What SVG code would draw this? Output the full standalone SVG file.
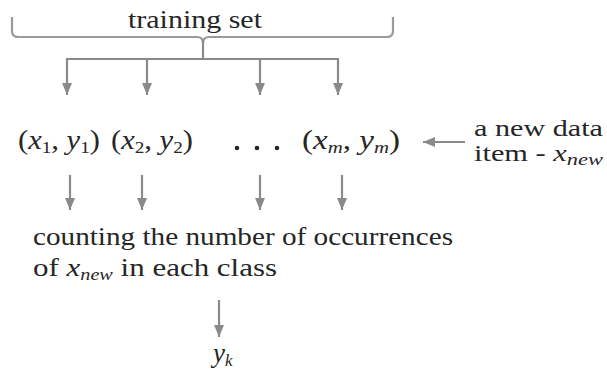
<svg xmlns="http://www.w3.org/2000/svg" width="607" height="370" viewBox="0 0 607 370">
<defs>
<marker id="ah" viewBox="0 0 12 10" refX="12" refY="5" markerWidth="12" markerHeight="10" markerUnits="userSpaceOnUse" orient="auto">
<path d="M0,0 L12,5 L0,10 z" fill="#8a8a8a"/>
</marker>
</defs>
<style>
.c{stroke:#8a8a8a;stroke-width:2.2;fill:none}
.b{stroke:#9a9a9a;stroke-width:2.2;fill:none}
</style>
<rect width="607" height="370" fill="#ffffff"/>
<g id="training-set">
<path class="b" d="M12,17 L12,31 Q12,37 18,37 L197,37 Q203,37 203,43 Q203,37 209,37 L387,37 Q393,37 393,31 L393,17"/>
<text style="font-family:'Liberation Serif',serif;font-size:26px;fill:#262626" x="128" y="28" textLength="134" lengthAdjust="spacingAndGlyphs">training set</text>
</g>
<g id="connectors">
<path class="c" d="M203,40 L203,59 M66,59 L339,59"/>
<line class="c" x1="67" y1="58" x2="67" y2="95" marker-end="url(#ah)"/>
<line class="c" x1="147" y1="58" x2="147" y2="95" marker-end="url(#ah)"/>
<line class="c" x1="260" y1="58" x2="260" y2="95" marker-end="url(#ah)"/>
<line class="c" x1="338" y1="58" x2="338" y2="95" marker-end="url(#ah)"/>
<line class="c" x1="70" y1="175" x2="70" y2="210" marker-end="url(#ah)"/>
<line class="c" x1="142" y1="175" x2="142" y2="210" marker-end="url(#ah)"/>
<line class="c" x1="260" y1="175" x2="260" y2="210" marker-end="url(#ah)"/>
<line class="c" x1="342" y1="175" x2="342" y2="210" marker-end="url(#ah)"/>
<line class="c" x1="465" y1="142" x2="423" y2="142" marker-end="url(#ah)"/>
<line class="c" x1="219" y1="300" x2="219" y2="337" marker-end="url(#ah)"/>
</g>
<g id="pair-1">
<text style="font-family:'Liberation Serif',serif;font-size:27px;fill:#262626" x="18" y="149" textLength="82" lengthAdjust="spacingAndGlyphs">(<tspan style="font-family:'Liberation Serif',serif;font-style:italic">x</tspan><tspan style="font-family:'Liberation Serif',serif;font-size:17px" dy="4">1</tspan><tspan style="font-family:'Liberation Serif',serif" dy="-4">, </tspan><tspan style="font-family:'Liberation Serif',serif;font-style:italic">y</tspan><tspan style="font-family:'Liberation Serif',serif;font-size:17px" dy="4">1</tspan><tspan style="font-family:'Liberation Serif',serif" dy="-4">)</tspan></text>
</g>
<g id="pair-2">
<text style="font-family:'Liberation Serif',serif;font-size:27px;fill:#262626" x="111" y="149" textLength="82" lengthAdjust="spacingAndGlyphs">(<tspan style="font-family:'Liberation Serif',serif;font-style:italic">x</tspan><tspan style="font-family:'Liberation Serif',serif;font-size:17px" dy="4">2</tspan><tspan style="font-family:'Liberation Serif',serif" dy="-4">, </tspan><tspan style="font-family:'Liberation Serif',serif;font-style:italic">y</tspan><tspan style="font-family:'Liberation Serif',serif;font-size:17px" dy="4">2</tspan><tspan style="font-family:'Liberation Serif',serif" dy="-4">)</tspan></text>
</g>
<g id="ellipsis">
<circle cx="237" cy="148" r="2.3" fill="#262626"/>
<circle cx="257" cy="148" r="2.3" fill="#262626"/>
<circle cx="277" cy="148" r="2.3" fill="#262626"/>
</g>
<g id="pair-m">
<text style="font-family:'Liberation Serif',serif;font-size:27px;fill:#262626" x="302" y="149" textLength="98" lengthAdjust="spacingAndGlyphs">(<tspan style="font-family:'Liberation Serif',serif;font-style:italic">x</tspan><tspan style="font-family:'Liberation Serif',serif;font-size:17px;font-style:italic" dy="4">m</tspan><tspan style="font-family:'Liberation Serif',serif" dy="-4">, </tspan><tspan style="font-family:'Liberation Serif',serif;font-style:italic">y</tspan><tspan style="font-family:'Liberation Serif',serif;font-size:17px;font-style:italic" dy="4">m</tspan><tspan style="font-family:'Liberation Serif',serif" dy="-4">)</tspan></text>
</g>
<g id="new-item">
<text style="font-family:'Liberation Serif',serif;font-size:23px;fill:#262626" x="474" y="135.5" textLength="129" lengthAdjust="spacingAndGlyphs">a new data</text>
<text style="font-family:'Liberation Serif',serif;font-size:23px;fill:#262626" x="474" y="161" textLength="129" lengthAdjust="spacingAndGlyphs">item - <tspan style="font-family:'Liberation Serif',serif;font-style:italic">x</tspan><tspan style="font-family:'Liberation Serif',serif;font-size:17px;font-style:italic" dy="4">new</tspan></text>
</g>
<g id="counting">
<text style="font-family:'Liberation Serif',serif;font-size:26px;fill:#262626" x="33" y="245" textLength="420" lengthAdjust="spacingAndGlyphs">counting the number of occurrences</text>
<text style="font-family:'Liberation Serif',serif;font-size:26px;fill:#262626" x="33" y="276" textLength="244" lengthAdjust="spacingAndGlyphs">of <tspan style="font-family:'Liberation Serif',serif;font-style:italic">x</tspan><tspan style="font-family:'Liberation Serif',serif;font-size:17px;font-style:italic" dy="4">new</tspan><tspan style="font-family:'Liberation Serif',serif" dy="-4"> in each class</tspan></text>
</g>
<g id="yk">
<text style="font-family:'Liberation Serif',serif;font-size:27px;fill:#262626" x="213" y="362"><tspan style="font-family:'Liberation Serif',serif;font-style:italic">y</tspan><tspan style="font-family:'Liberation Serif',serif;font-size:17px;font-style:italic" dy="4">k</tspan></text>
</g>
</svg>
